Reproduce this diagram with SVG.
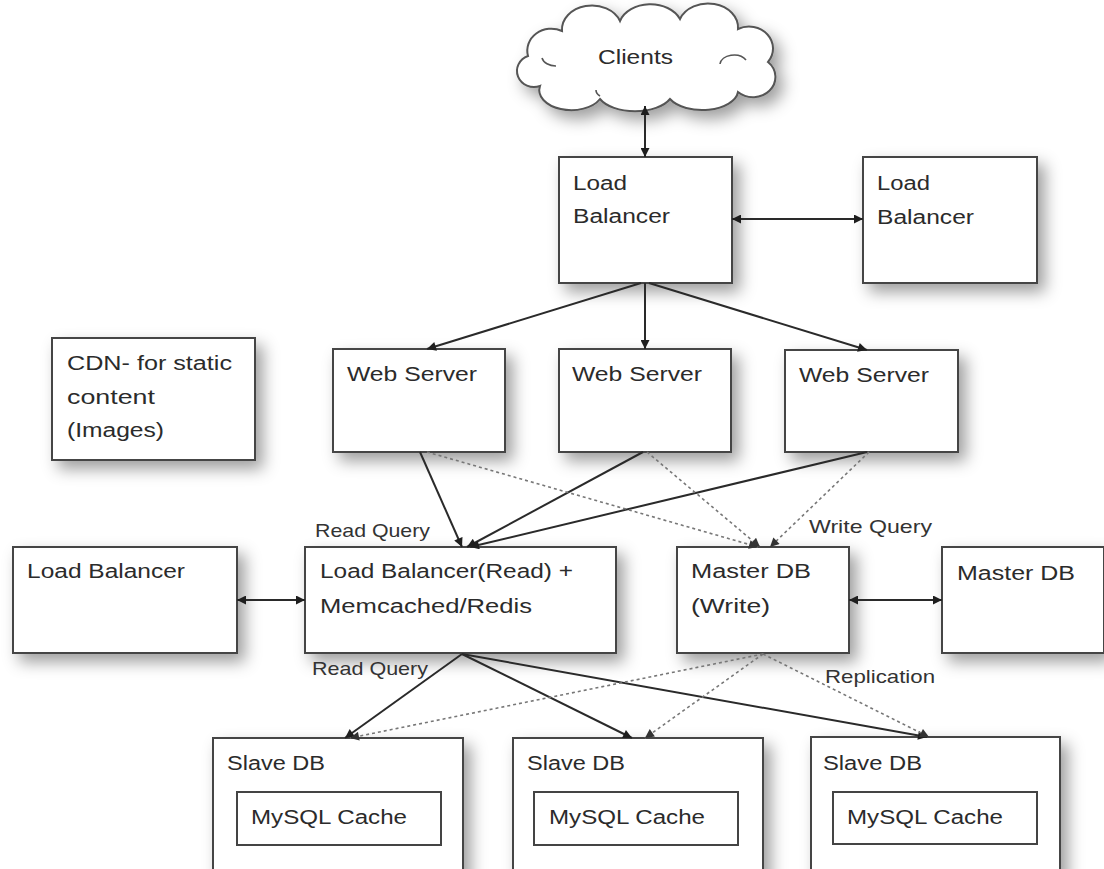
<svg xmlns="http://www.w3.org/2000/svg" width="1104" height="869" viewBox="0 0 1104 869">
<style>
.box{fill:#fff;stroke:#444;stroke-width:2}
.inner{fill:#fff;stroke:#444;stroke-width:2}
.t{font-family:"Liberation Sans",Arial,sans-serif;font-size:20px;fill:#2b2b2b}
.l{font-family:"Liberation Sans",Arial,sans-serif;font-size:18.5px;fill:#333}
.s{stroke:#2a2a2a;stroke-width:2;fill:none}
.d{stroke:#777;stroke-width:1.6;stroke-dasharray:3 3;fill:none}
</style>
<defs>
<filter id="sh" x="-30%" y="-30%" width="160%" height="170%">
<feDropShadow dx="7" dy="8" stdDeviation="8" flood-color="#000" flood-opacity="0.38"/>
</filter>
<marker id="a" viewBox="0 0 10 10" refX="10" refY="5" markerWidth="10" markerHeight="9" orient="auto-start-reverse" markerUnits="userSpaceOnUse">
<path d="M0,0 L10,5 L0,10 z" fill="#1e1e1e"/>
</marker>
<marker id="ad" viewBox="0 0 10 10" refX="10" refY="5" markerWidth="10" markerHeight="9" orient="auto-start-reverse" markerUnits="userSpaceOnUse">
<path d="M0,0 L10,5 L0,10 z" fill="#333"/>
</marker>
</defs>
<rect width="1104" height="869" fill="#fff"/>

<g id="clients">
<path filter="url(#sh)" fill="#fff" stroke="#555" stroke-width="2" d="M540,86 A17,16 0 0 1 528,56 A24,22 0 0 1 562,31 A30,24 0 0 1 620,21 A32,24 0 0 1 680,19 A30,24 0 0 1 738,29 A24,22 0 0 1 768,62 A20,18 0 0 1 738,92 A36,20 0 0 1 670,99 A38,20 0 0 1 600,99 A32,20 0 0 1 540,86 Z"/>
<path fill="none" stroke="#555" stroke-width="1.6" d="M720,64 a14,10 0 0 1 26,-4 M542,58 a14,10 0 0 0 14,8 M600,96 a12,8 0 0 1 -4,-6"/>
<text class="t" x="598" y="64" textLength="75" lengthAdjust="spacingAndGlyphs">Clients</text>
</g>

<g id="lb-top">
<rect class="box" filter="url(#sh)" x="559" y="157" width="173" height="126"/>
<text class="t" x="573" y="190" textLength="54" lengthAdjust="spacingAndGlyphs">Load</text>
<text class="t" x="573" y="223" textLength="97" lengthAdjust="spacingAndGlyphs">Balancer</text>
</g>

<g id="lb-right">
<rect class="box" filter="url(#sh)" x="863" y="157" width="174" height="126"/>
<text class="t" x="877" y="190" textLength="53" lengthAdjust="spacingAndGlyphs">Load</text>
<text class="t" x="877" y="224" textLength="97" lengthAdjust="spacingAndGlyphs">Balancer</text>
</g>

<g id="cdn">
<rect class="box" filter="url(#sh)" x="52" y="338" width="203" height="122"/>
<text class="t" x="67" y="370" textLength="165" lengthAdjust="spacingAndGlyphs">CDN- for static</text>
<text class="t" x="67" y="404" textLength="88" lengthAdjust="spacingAndGlyphs">content</text>
<text class="t" x="67" y="437" textLength="97" lengthAdjust="spacingAndGlyphs">(Images)</text>
</g>

<g id="ws1">
<rect class="box" filter="url(#sh)" x="333" y="349" width="172" height="103"/>
<text class="t" x="347" y="381" textLength="130" lengthAdjust="spacingAndGlyphs">Web Server</text>
</g>
<g id="ws2">
<rect class="box" filter="url(#sh)" x="559" y="349" width="172" height="103"/>
<text class="t" x="572" y="381" textLength="130" lengthAdjust="spacingAndGlyphs">Web Server</text>
</g>
<g id="ws3">
<rect class="box" filter="url(#sh)" x="785" y="350" width="173" height="102"/>
<text class="t" x="799" y="382" textLength="130" lengthAdjust="spacingAndGlyphs">Web Server</text>
</g>

<g id="lb-left">
<rect class="box" filter="url(#sh)" x="13" y="547" width="224" height="106"/>
<text class="t" x="27" y="578" textLength="158" lengthAdjust="spacingAndGlyphs">Load Balancer</text>
</g>

<g id="lb-read">
<rect class="box" filter="url(#sh)" x="305" y="547" width="311" height="106"/>
<text class="t" x="320" y="578" textLength="253" lengthAdjust="spacingAndGlyphs">Load Balancer(Read) +</text>
<text class="t" x="320" y="613" textLength="212" lengthAdjust="spacingAndGlyphs">Memcached/Redis</text>
</g>

<g id="master-db">
<rect class="box" filter="url(#sh)" x="677" y="547" width="172" height="106"/>
<text class="t" x="691" y="578" textLength="120" lengthAdjust="spacingAndGlyphs">Master DB</text>
<text class="t" x="691" y="613" textLength="79" lengthAdjust="spacingAndGlyphs">(Write)</text>
</g>

<g id="master-db-right">
<rect class="box" filter="url(#sh)" x="942" y="547" width="162" height="106"/>
<text class="t" x="957" y="580" textLength="118" lengthAdjust="spacingAndGlyphs">Master DB</text>
</g>

<g id="slave1">
<rect class="box" filter="url(#sh)" x="213" y="738" width="250" height="140"/>
<text class="t" x="227" y="770" textLength="98" lengthAdjust="spacingAndGlyphs">Slave DB</text>
<rect class="inner" x="237" y="792" width="204" height="53"/>
<text class="t" x="251" y="824" textLength="156" lengthAdjust="spacingAndGlyphs">MySQL Cache</text>
</g>
<g id="slave2">
<rect class="box" filter="url(#sh)" x="513" y="738" width="250" height="140"/>
<text class="t" x="527" y="770" textLength="98" lengthAdjust="spacingAndGlyphs">Slave DB</text>
<rect class="inner" x="534" y="792" width="204" height="53"/>
<text class="t" x="549" y="824" textLength="156" lengthAdjust="spacingAndGlyphs">MySQL Cache</text>
</g>
<g id="slave3">
<rect class="box" filter="url(#sh)" x="811" y="737" width="249" height="140"/>
<text class="t" x="823" y="770" textLength="99" lengthAdjust="spacingAndGlyphs">Slave DB</text>
<rect class="inner" x="833" y="792" width="204" height="52"/>
<text class="t" x="847" y="824" textLength="156" lengthAdjust="spacingAndGlyphs">MySQL Cache</text>
</g>

<g id="connectors">
<line class="s" x1="645" y1="106" x2="645" y2="157" marker-start="url(#a)" marker-end="url(#a)"/>
<line class="s" x1="732" y1="219" x2="863" y2="219" marker-start="url(#a)" marker-end="url(#a)"/>
<line class="s" x1="641" y1="283" x2="427" y2="349" marker-end="url(#a)"/>
<line class="s" x1="645" y1="283" x2="645" y2="349" marker-end="url(#a)"/>
<line class="s" x1="649" y1="283" x2="867" y2="350" marker-end="url(#a)"/>
<line class="s" x1="420" y1="452" x2="462" y2="547" marker-end="url(#a)"/>
<line class="s" x1="643" y1="452" x2="467" y2="547" marker-end="url(#a)"/>
<line class="s" x1="867" y1="452" x2="470" y2="547" marker-end="url(#a)"/>
<line class="d" x1="427" y1="452" x2="758" y2="547" marker-end="url(#ad)"/>
<line class="d" x1="647" y1="452" x2="760" y2="547" marker-end="url(#ad)"/>
<line class="d" x1="869" y1="452" x2="770" y2="547" marker-end="url(#ad)"/>
<line class="s" x1="237" y1="600" x2="305" y2="600" marker-start="url(#a)" marker-end="url(#a)"/>
<line class="s" x1="849" y1="600" x2="942" y2="600" marker-start="url(#a)" marker-end="url(#a)"/>
<line class="s" x1="462" y1="654" x2="345" y2="738" marker-end="url(#a)"/>
<line class="s" x1="462" y1="654" x2="632" y2="738" marker-end="url(#a)"/>
<line class="s" x1="462" y1="654" x2="927" y2="737" marker-end="url(#a)"/>
<line class="d" x1="763" y1="654" x2="350" y2="738" marker-end="url(#ad)"/>
<line class="d" x1="763" y1="654" x2="645" y2="738" marker-end="url(#ad)"/>
<line class="d" x1="763" y1="654" x2="929" y2="737" marker-end="url(#ad)"/>
<text class="l" x="315" y="537" textLength="115" lengthAdjust="spacingAndGlyphs">Read Query</text>
<text class="l" x="809" y="533" textLength="123" lengthAdjust="spacingAndGlyphs">Write Query</text>
<text class="l" x="312" y="675" textLength="116" lengthAdjust="spacingAndGlyphs">Read Query</text>
<text class="l" x="825" y="683" textLength="110" lengthAdjust="spacingAndGlyphs">Replication</text>
</g>
</svg>
